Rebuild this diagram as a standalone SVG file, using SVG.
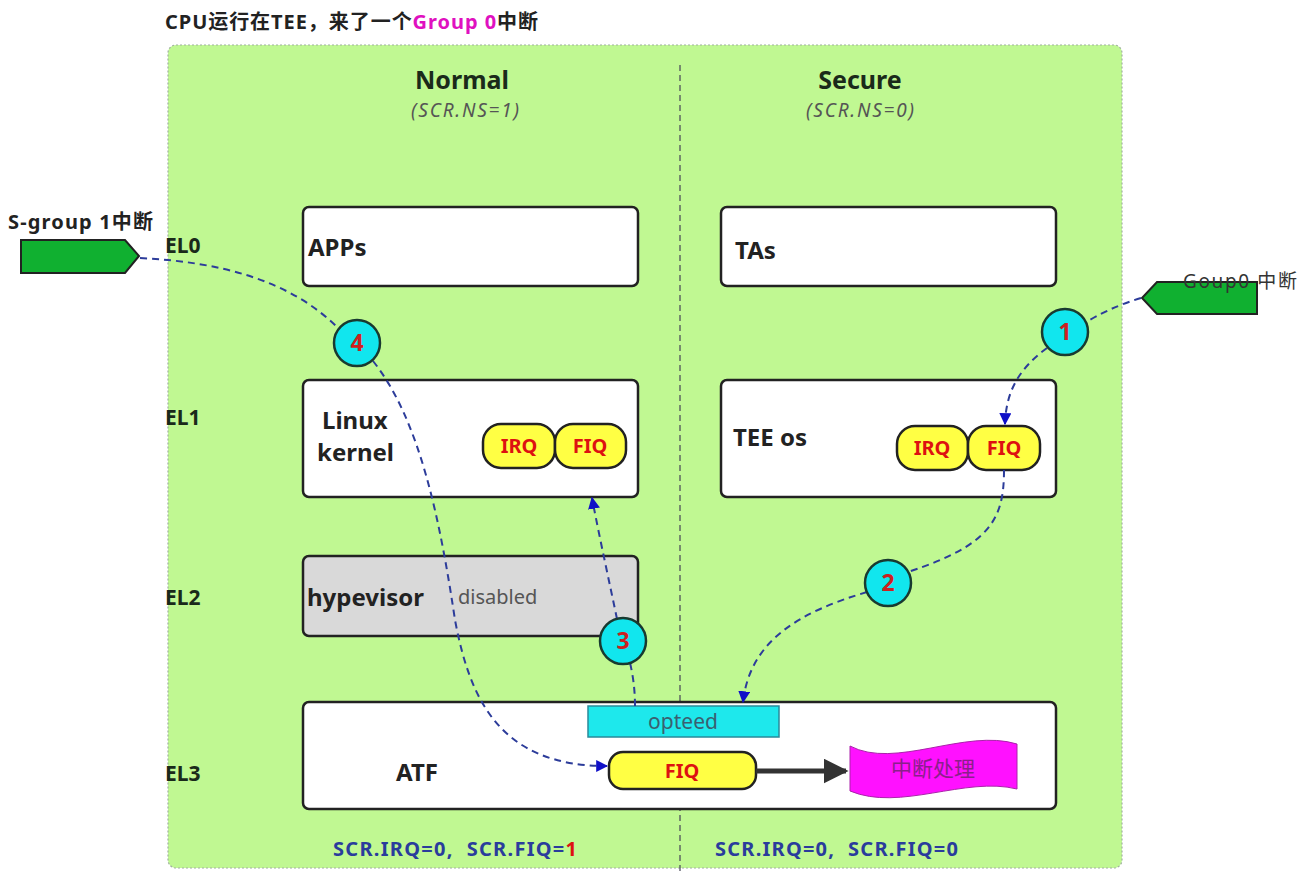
<svg xmlns="http://www.w3.org/2000/svg" width="1307" height="878" viewBox="0 0 1307 878">
<defs>
<style>
text{font-family:"Noto Sans","Open Sans","Noto Sans CJK SC",sans-serif;}
.b{font-weight:bold;fill:#222;}
.lbl{font-size:24px;font-weight:bold;fill:#222;}
.el{font-size:21px;font-weight:bold;fill:#1a2a1a;}
.box{fill:#fff;stroke:#222;stroke-width:2.5;}
.pill{fill:#ffff44;stroke:#222;stroke-width:2.5;}
.pt{font-size:20px;font-weight:bold;fill:#dd1111;text-anchor:middle;}
.circ{fill:#11e6ee;stroke:#183a30;stroke-width:2.5;}
.num{font-size:23px;font-weight:bold;fill:#cc2020;text-anchor:middle;}
.dash{fill:none;stroke:#2c3c9a;stroke-width:2;stroke-dasharray:7 5;}
.scr{font-size:20px;font-weight:bold;fill:#2a3c9c;white-space:pre;}
.sub{font-size:19px;font-style:italic;fill:#555;text-anchor:middle;}
.hd{font-size:25px;font-weight:bold;fill:#1a2a1a;text-anchor:middle;}
</style>
<marker id="ah" viewBox="0 0 10 10" refX="9" refY="5" markerWidth="6" markerHeight="6" orient="auto-start-reverse" markerUnits="strokeWidth">
<path d="M0,0 L10,5 L0,10 Z" fill="#1010c8"/>
</marker>
<marker id="ahBig" viewBox="0 0 10 10" refX="9" refY="5" markerWidth="5" markerHeight="5" orient="auto" markerUnits="strokeWidth">
<path d="M0,0 L10,5 L0,10 Z" fill="#333"/>
</marker>
</defs>
<rect width="1307" height="878" fill="#fff"/>
<text x="165" y="29" style="font-size:20px" class="b" textLength="373">CPU运行在TEE，来了一个<tspan fill="#e010c0">Group 0</tspan>中断</text>
<g id="panel">
<rect x="168" y="45" width="954" height="823" rx="8" fill="#c0f892" stroke="#a0b0a0" stroke-width="1.2" stroke-dasharray="2 2"/>
<line x1="680" y1="65" x2="680" y2="872" stroke="#445" stroke-width="1.2" stroke-dasharray="6 4"/>
<text x="462" y="89" class="hd">Normal</text>
<text x="465" y="117" class="sub" textLength="108">(SCR.NS=1)</text>
<text x="860" y="89" class="hd">Secure</text>
<text x="860" y="117" class="sub" textLength="108">(SCR.NS=0)</text>
<text x="165" y="253" class="el">EL0</text>
<text x="165" y="425" class="el">EL1</text>
<text x="165" y="605" class="el">EL2</text>
<text x="165" y="781" class="el">EL3</text>
<text x="333" y="856" class="scr" textLength="244">SCR.IRQ=0,  SCR.FIQ=<tspan fill="#dd1111">1</tspan></text>
<text x="715" y="856" class="scr" textLength="243">SCR.IRQ=0,  SCR.FIQ=0</text>
</g>
<g id="apps"><rect x="303" y="207" width="335" height="79" rx="6" class="box"/><text x="308" y="256" class="lbl">APPs</text></g>
<g id="tas"><rect x="721" y="207" width="335" height="79" rx="6" class="box"/><text x="735" y="259" class="lbl">TAs</text></g>
<g id="linux"><rect x="303" y="380" width="335" height="117" rx="6" class="box"/>
<text x="322" y="429" class="lbl">Linux</text><text x="317" y="461" class="lbl">kernel</text>
<rect x="483" y="424" width="72" height="44" rx="18" class="pill"/><text x="519" y="453" class="pt">IRQ</text>
<rect x="555" y="424" width="71" height="44" rx="18" class="pill"/><text x="590" y="453" class="pt">FIQ</text></g>
<g id="teeos"><rect x="721" y="380" width="335" height="117" rx="6" class="box"/>
<text x="733" y="446" class="lbl">TEE os</text>
<rect x="897" y="426" width="71" height="44" rx="18" class="pill"/><text x="932" y="455" class="pt">IRQ</text>
<rect x="968" y="426" width="72" height="44" rx="18" class="pill"/><text x="1004" y="455" class="pt">FIQ</text></g>
<g id="hyp"><rect x="303" y="556" width="335" height="80" rx="6" fill="#d9d9d9" stroke="#222" stroke-width="2.5"/>
<text x="307" y="606" class="lbl">hypevisor</text><text x="458" y="604" style="font-size:20px" fill="#555">disabled</text></g>
<g id="atf"><rect x="303" y="702" width="753" height="107" rx="6" class="box"/>
<text x="396" y="781" class="lbl">ATF</text></g>
<g id="opteed"><rect x="588" y="706" width="191" height="31" fill="#1ee8ec" stroke="#2a8a9a" stroke-width="1.5"/><text x="683" y="729" text-anchor="middle" style="font-size:21px" fill="#3a6070">opteed</text></g>
<g id="atffiq"><rect x="609" y="752" width="147" height="37" rx="14" class="pill"/><text x="682" y="778" class="pt">FIQ</text></g>
<g id="handler"><path d="M850,746 C895,770 965,728 1017,744 L1017,789 C965,776 900,812 850,791 Z" fill="#ff11ff" stroke="#aa22aa" stroke-width="1"/>
<text x="933" y="776" text-anchor="middle" style="font-size:21px" fill="#8a208a">中断处理</text></g>
<g id="sgroup"><path d="M21,240 L125,240 L139,256 L125,273 L21,273 Z" fill="#10b030" stroke="#222" stroke-width="2"/>
<text x="8" y="229" class="b" style="font-size:20px" textLength="145">S-group 1中断</text></g>
<g id="goup0"><path d="M1142,298 L1157,282 L1257,282 L1257,314 L1157,314 Z" fill="#10b030" stroke="#222" stroke-width="2"/>
<text x="1183" y="288" style="font-size:19px" fill="#333" textLength="114">Goup0 中断</text></g>
<g id="connectors">
<path d="M1141,298 C1115,306 1100,314 1086,322" class="dash"/>
<path d="M1047,348 C1020,368 1006,390 1005,424" class="dash" marker-end="url(#ah)"/>
<path d="M1004,470 C1004,520 990,545 908,572" class="dash"/>
<path d="M867,592 C800,612 750,640 743,702" class="dash" marker-end="url(#ah)"/>
<path d="M635,706 C635,690 633,675 630,663" class="dash"/>
<path d="M617,619 C610,585 600,540 592,498" class="dash" marker-end="url(#ah)"/>
<path d="M140,258 C220,262 290,280 338,328" class="dash"/>
<path d="M373,361 C420,420 440,520 455,620 C470,700 500,766 607,766" class="dash" marker-end="url(#ah)"/>
<line x1="756" y1="771" x2="846" y2="771" stroke="#333" stroke-width="5" marker-end="url(#ahBig)"/>
</g>
<g id="c1"><circle cx="1065" cy="332" r="23" class="circ"/><text x="1065" y="340" class="num">1</text></g>
<g id="c2"><circle cx="888" cy="583" r="23" class="circ"/><text x="888" y="591" class="num">2</text></g>
<g id="c3"><circle cx="623" cy="641" r="23" class="circ"/><text x="623" y="649" class="num">3</text></g>
<g id="c4"><circle cx="357" cy="343" r="23" class="circ"/><text x="357" y="351" class="num">4</text></g>
</svg>
